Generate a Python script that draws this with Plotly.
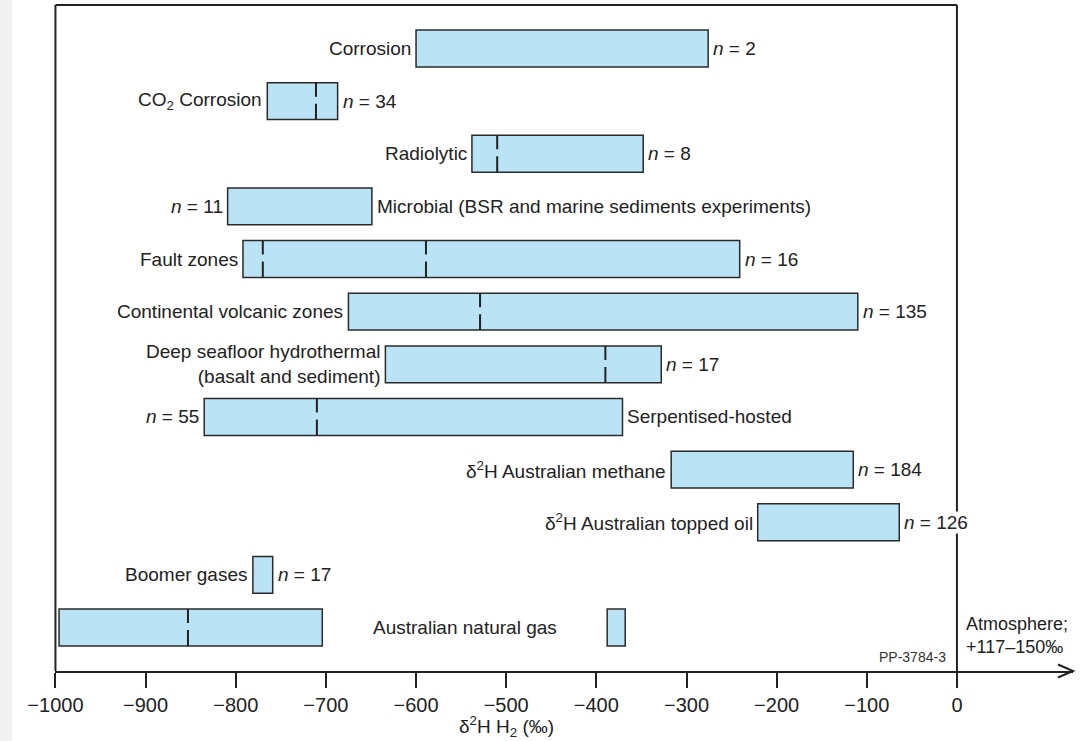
import plotly.graph_objects as go

# ---------------- data ----------------
categories = [
    "Corrosion",
    "CO<sub>2</sub> Corrosion",
    "Radiolytic",
    "Microbial (BSR and marine sediments experiments)",
    "Fault zones",
    "Continental volcanic zones",
    "Deep seafloor hydrothermal<br>(basalt and sediment)",
    "Serpentised-hosted",
    "δ<sup>2</sup>H Australian methane",
    "δ<sup>2</sup>H Australian topped oil",
    "Boomer gases",
    "Australian natural gas",
]
low_values = [-600, -765, -538, -809, -792, -675, -634, -835, -317, -221, -781, -996]
high_values = [-276, -687, -348, -649, -241, -110, -328, -371, -115, -64, -759, -704]
n_values = [2, 34, 8, 11, 16, 135, 17, 55, 184, 126, 17, None]
median_values = [[], [-711], [-510], [], [-770, -589], [-529], [-390], [-710], [], [], [], [-853]]
name_side = ["left", "left", "left", "right", "left", "left", "left", "right",
             "left", "left", "left", "between"]

# second box of Australian natural gas
extra_category_index = 11
extra_low = -388
extra_high = -368

tick_values = [-1000, -900, -800, -700, -600, -500, -400, -300, -200, -100, 0]
tick_labels = ["−1000", "−900", "−800", "−700", "−600", "−500", "−400",
               "−300", "−200", "−100", "0"]

# ---------------- layout constants ----------------
W, H = 1083, 741
ML, MR, MT, MB = 55, 10, 5, 70
PW, PH = W - ML - MR, H - MT - MB
X0 = -1000.5
PX_PER_UNIT = 0.9015
X1 = X0 + PW / PX_PER_UNIT
Y_RANGE = [11.826, -0.826]
BAR_W = 0.70

FILL = "#bae4f6"
EDGE = "#2a2a2a"
INK = "#222222"
FONT = "Liberation Sans, Arial, Helvetica, sans-serif"
FS = 19

rows = list(range(len(categories)))

def xpaper(v):
    return (v - X0) / (X1 - X0)

fig = go.Figure()

# bars
fig.add_trace(go.Bar(
    y=rows,
    base=low_values,
    x=[h - l for l, h in zip(low_values, high_values)],
    orientation="h",
    width=BAR_W,
    marker=dict(color=FILL, line=dict(color=EDGE, width=1.5)),
    hoverinfo="skip",
    showlegend=False,
))
fig.add_trace(go.Bar(
    y=[extra_category_index],
    base=[extra_low],
    x=[extra_high - extra_low],
    orientation="h",
    width=BAR_W,
    marker=dict(color=FILL, line=dict(color=EDGE, width=1.5)),
    hoverinfo="skip",
    showlegend=False,
))

# median (dashed) lines
mx, my = [], []
for i, meds in enumerate(median_values):
    for m in meds:
        mx += [m, m, None]
        my += [i - BAR_W / 2, i + BAR_W / 2, None]
fig.add_trace(go.Scatter(
    x=mx, y=my, mode="lines",
    line=dict(color=INK, width=2, dash="14px,7px,30px"),
    hoverinfo="skip", showlegend=False,
))

annotations = []
GAP = 4
for i, name in enumerate(categories):
    lo, hi, n = low_values[i], high_values[i], n_values[i]
    side = name_side[i]
    ntxt = f"<i>n</i> = {n}" if n is not None else None
    if side == "left":
        annotations.append(dict(x=lo, y=i, text=name, xanchor="right", align="right",
                                xshift=-GAP, showarrow=False))
        if ntxt:
            annotations.append(dict(x=hi, y=i, text=ntxt, xanchor="left",
                                    xshift=GAP, showarrow=False))
    elif side == "right":
        annotations.append(dict(x=hi, y=i, text=name, xanchor="left",
                                xshift=GAP, showarrow=False))
        if ntxt:
            annotations.append(dict(x=lo, y=i, text=ntxt, xanchor="right",
                                    xshift=-GAP, showarrow=False))
    else:
        annotations.append(dict(x=(hi + extra_low) / 2, y=i, text=name, xanchor="center",
                                showarrow=False))

for a in annotations:
    a.update(xref="x", yref="y", yanchor="middle", bgcolor="white", borderpad=0,
             font=dict(family=FONT, size=FS, color=INK))

# axis title
annotations.append(dict(x=-500, y=0, xref="x", yref="paper", yshift=-55,
                        text="δ<sup>2</sup>H H<sub>2</sub> (‰)", showarrow=False,
                        xanchor="center", yanchor="middle",
                        font=dict(family=FONT, size=19, color=INK)))
# atmosphere note
annotations.append(dict(x=0, y=0, xref="x", yref="paper", xshift=7, yshift=36,
                        text="Atmosphere;<br>+117–150‰", showarrow=False,
                        xanchor="left", yanchor="middle", align="left",
                        font=dict(family=FONT, size=18, color=INK)))
# figure code
annotations.append(dict(x=0, y=0, xref="x", yref="paper", xshift=-9, yshift=14,
                        text="PP-3784-3", showarrow=False,
                        xanchor="right", yanchor="middle",
                        font=dict(family=FONT, size=14, color="#333333")))

shapes = []
# left grey strip
shapes.append(dict(type="rect", xref="paper", yref="paper",
                   x0=-ML / PW, x1=(12.5 - ML) / PW, y0=-MB / PH, y1=1 + MT / PH,
                   fillcolor="#f1f1f1", line=dict(width=0), layer="below"))
# frame
fl = dict(color=INK, width=2)
shapes.append(dict(type="line", xref="paper", yref="paper",
                   x0=xpaper(-1000), x1=xpaper(-1000), y0=0, y1=1, line=fl, layer="below"))
shapes.append(dict(type="line", xref="paper", yref="paper",
                   x0=xpaper(0), x1=xpaper(0), y0=0, y1=1, line=fl, layer="below"))
shapes.append(dict(type="line", xref="paper", yref="paper",
                   x0=xpaper(-1000), x1=xpaper(0), y0=1, y1=1, line=fl))
# arrow head at end of x axis
ax_len = 15 / PW
ay_len = 6.5 / PH
shapes.append(dict(type="path", xref="paper", yref="paper",
                   path=f"M {1 - ax_len},{ay_len} L 1,0 L {1 - ax_len},{-ay_len}",
                   line=dict(color=INK, width=2)))

fig.update_layout(
    width=W, height=H,
    margin=dict(l=ML, r=MR, t=MT, b=MB, pad=0),
    paper_bgcolor="white", plot_bgcolor="white",
    barmode="overlay",
    showlegend=False,
    annotations=annotations,
    shapes=shapes,
    font=dict(family=FONT, color=INK),
    xaxis=dict(
        range=[X0, X1], tickmode="array", tickvals=tick_values, ticktext=tick_labels,
        ticks="outside", ticklen=15, tickwidth=2, tickcolor=INK,
        showline=True, linecolor=INK, linewidth=2,
        showgrid=False, zeroline=False,
        tickfont=dict(family=FONT, size=20, color=INK),
    ),
    yaxis=dict(range=Y_RANGE, showgrid=False, zeroline=False, showticklabels=False,
               showline=False, ticks=""),
)

fig.write_html("out.html")
